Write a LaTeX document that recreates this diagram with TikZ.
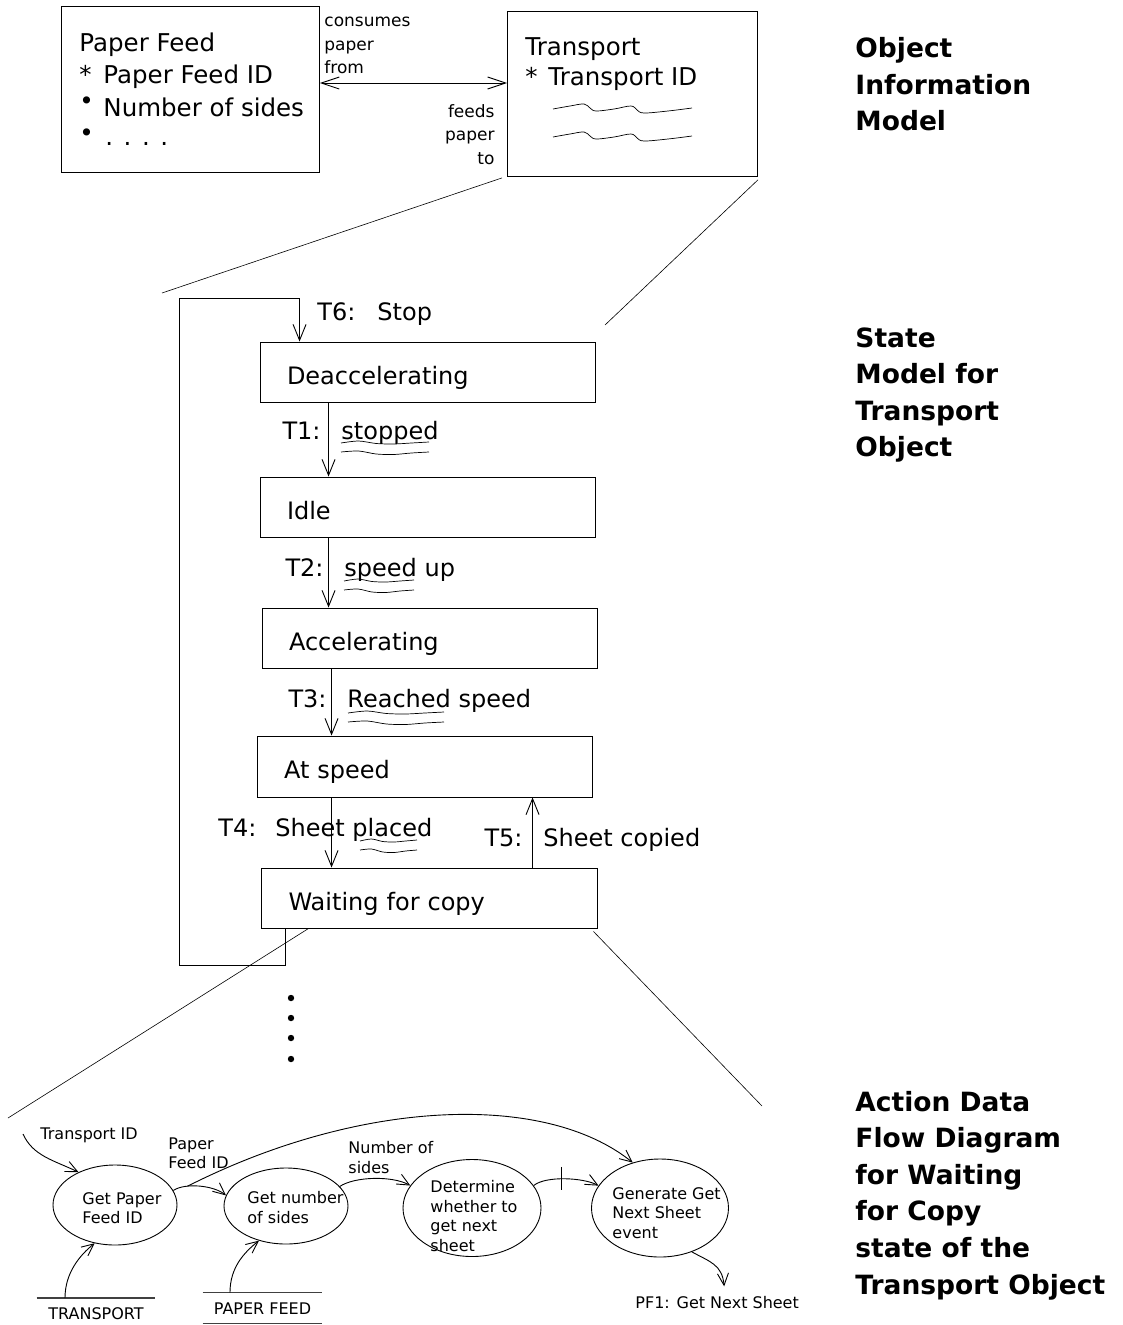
\documentclass[tikz,border=0pt]{standalone}
\usepackage{fontspec}
\setmainfont{DejaVu Sans}
\usetikzlibrary{arrows.meta,shapes.geometric}
% hand-drawn double underline: x, y, width
\newcommand{\scribble}[3]{%
\draw[squig] plot[smooth] coordinates {(#1,{#2+1}) ({#1+0.2*#3},{#2-1}) ({#1+0.4*#3},{#2+1.5}) ({#1+0.6*#3},{#2+2}) ({#1+0.8*#3},{#2+1}) ({#1+#3},{#2})};%
\draw[squig] plot[smooth] coordinates {(#1,{#2+10}) ({#1+0.2*#3},{#2+9}) ({#1+0.4*#3},{#2+12}) ({#1+0.6*#3},{#2+12.5}) ({#1+0.8*#3},{#2+11}) ({#1+#3},{#2+10})};}
\begin{document}
\begin{tikzpicture}[x=1pt,y=-1pt,line width=0.9pt]
\tikzset{statebox/.style={draw,minimum width=335pt,minimum height=60pt,inner xsep=27pt,text width=281pt,align=left,text height=24pt,text depth=0pt,font=\fontsize{24}{29}\selectfont},
 objbox/.style={draw,minimum width=258pt,minimum height=166pt,anchor=north west},
 proc/.style={draw,ellipse,inner sep=0pt},
 dfdtext/.style={font=\fontsize{16}{19.5}\selectfont,align=left,inner sep=0pt},
 trans/.style={font=\fontsize{24}{30}\selectfont,inner sep=0pt},
 rolename/.style={font=\fontsize{17}{23.5}\selectfont,inner sep=0pt},
 heading/.style={font=\bfseries\fontsize{26.5}{36.6}\selectfont,align=left,inner sep=0pt,anchor=north west},
 arr/.style={-{Straight Barb[length=16pt,width=13pt]}},
 darr/.style={-{Straight Barb[length=12pt,width=11pt]}},
 zoomline/.style={line width=0.6pt},
 squig/.style={line width=0.7pt},
 storeline/.style={line width=1.2pt,draw=black!75}}
\useasboundingbox (0,0) rectangle (1122,1325);
\node[objbox] (pfeed) at (61,6) {};
\node[objbox,minimum width=250pt,minimum height=165pt] (tport) at (507,11) {};
\node[anchor=north west,align=left,inner sep=0pt,font=\fontsize{24.5}{32.5}\selectfont] (pfeedtxt) at (79,32.4) {Paper Feed\\\makebox[24pt][l]{*}Paper Feed ID\\\makebox[24pt][l]{\raisebox{7pt}{\textbullet}}Number of sides\\\makebox[26pt][l]{\raisebox{7pt}{\textbullet}}\raisebox{3pt}{.\hspace{10.5pt}.\hspace{10.5pt}.\hspace{10.5pt}.}};
\node[anchor=north west,align=left,inner sep=0pt,font=\fontsize{24.5}{30}\selectfont] (tporttxt) at (525,37.4) {Transport\\\makebox[23pt][l]{*}Transport ID};
\draw[squig] plot[smooth,tension=0.6] coordinates {(553,109) (570,106) (584,104) (590,108) (596,111) (614,109) (631,106) (637,110) (644,113) (668,111) (692,108)};
\draw[squig] plot[smooth,tension=0.6] coordinates {(553,137) (570,134) (584,132) (590,136) (596,139) (614,137) (631,134) (637,138) (644,141) (668,139) (692,136)};
\draw[{Straight Barb[length=18pt,width=12pt]}-{Straight Barb[length=18pt,width=12pt]}] ([yshift=-77pt]pfeed.north east) -- ([yshift=-72pt]tport.north west);
\node[rolename,anchor=north west,align=left] (consumes) at (324,16.7) {consumes\\paper\\from};
\node[rolename,anchor=north east,align=right] (feeds) at (495,104) {feeds\\paper\\to};
\node[heading] (oimtitle) at (855,37) {Object\\Information\\Model};
\node[heading] (smtitle) at (855,327) {State\\Model for\\Transport\\Object};
\node[heading] (adftitle) at (855,1090.5) {Action Data\\Flow Diagram\\for Waiting\\for Copy\\state of the\\Transport Object};
\coordinate (smtl) at (162,293);
\coordinate (smtr) at (605,325);
\draw[zoomline] ([xshift=-5pt,yshift=-1pt]tport.south west) -- (smtl);
\draw[zoomline] ([yshift=-3pt]tport.south east) -- (smtr);
\node[statebox] (deacc) at (427.5,372) {Deaccelerating};
\node[statebox] (idle) at (427.5,507) {Idle};
\node[statebox] (accel) at (429.5,638) {Accelerating};
\node[statebox,minimum height=61pt] (atspeed) at (424.5,766.5) {At speed};
\node[statebox,minimum width=336pt] (waiting) at (429,898) {Waiting for copy};
\draw[arr] ([xshift=69pt]deacc.south west) -- ([xshift=69pt]idle.north west);
\node[trans,anchor=base east] (t1) at (321,439) {T1:};
\node[trans,anchor=base west] (t1ev) at (341,439) {stopped};
\scribble{341}{442}{88}
\draw[arr] ([xshift=69pt]idle.south west) -- ([xshift=67pt]accel.north west);
\node[trans,anchor=base east] (t2) at (324,576) {T2:};
\node[trans,anchor=base west] (t2ev) at (344,576) {speed up};
\scribble{344}{580}{70}
\draw[arr] ([xshift=70pt]accel.south west) -- ([xshift=75pt]atspeed.north west);
\node[trans,anchor=base east] (t3) at (327,707) {T3:};
\node[trans,anchor=base west] (t3ev) at (347,707) {Reached speed};
\scribble{348}{712}{96}
\draw[arr] ([xshift=75pt]atspeed.south west) -- ([xshift=71pt]waiting.north west);
\node[trans,anchor=base west] (t4) at (218,836) {T4:\hspace{19pt}Sheet placed};
\scribble{360}{840}{57}
\draw[arr] ([xshift=272pt]waiting.north west) -- ([xshift=276pt]atspeed.south west);
\node[trans,anchor=base east] (t5) at (523,846) {T5:};
\node[trans,anchor=base west] (t5ev) at (543,846) {Sheet copied};
\draw[arr] ([xshift=25pt]waiting.south west) -- ++(0,37) -| (179,298) -| ([xshift=40pt]deacc.north west);
\node[trans,anchor=base west] (t6) at (317,320) {T6:\hspace{22pt}Stop};
\coordinate (dfdl) at (8,1118);
\coordinate (dfdr) at (762,1106);
\draw[zoomline] ([xshift=48pt]waiting.south west) -- (dfdl);
\draw[zoomline] ([xshift=-4pt,yshift=-3pt]waiting.south east) -- (dfdr);
\foreach \y in {998,1018,1038,1059} \fill (291,\y) circle (3.2pt);
\node[proc,minimum width=124pt,minimum height=80pt] (getpf) at (115,1205) {};
\node[proc,minimum width=124pt,minimum height=76pt] (getns) at (286,1206) {};
\node[proc,minimum width=138pt,minimum height=97pt] (determ) at (472,1208) {};
\node[proc,minimum width=137pt,minimum height=98pt] (genev) at (660,1208) {};
\node[dfdtext,anchor=north west] (getpftxt) at (82,1192) {Get Paper\\Feed ID};
\node[dfdtext,anchor=north west] (getnstxt) at (247,1191) {Get number\\of sides};
\node[dfdtext,anchor=north west] (determtxt) at (430,1180) {Determine\\whether to\\get next\\sheet};
\node[dfdtext,anchor=north west] (genevtxt) at (612,1187) {Generate Get\\Next Sheet\\event};
\node[dfdtext,anchor=base west] (tidlbl) at (40,1139) {Transport ID};
\node[dfdtext,anchor=north west] (pfidlbl) at (168,1137) {Paper\\Feed ID};
\node[dfdtext,anchor=north west] (nslbl) at (348,1141) {Number of\\sides};
\node[dfdtext,anchor=base west] (pf1) at (635,1308) {PF1: Get Next Sheet};
\node[dfdtext,minimum width=118pt,text height=12pt,text depth=0pt,anchor=north,inner ysep=9pt] (tstore) at (96,1298) {TRANSPORT};
\node[dfdtext,minimum width=119pt,minimum height=30pt,text height=12pt,text depth=0pt] (pstore) at (262.5,1308) {PAPER FEED};
\draw[storeline] (tstore.north west) -- (tstore.north east);
\draw[storeline] (pstore.north west) -- (pstore.north east);
\draw[storeline] (pstore.south west) -- (pstore.south east);
\coordinate (tidin) at (23,1134);
\draw[darr] (tidin) .. controls +(10,22) and +(-25,-12) .. (getpf.138);
\draw[darr] (getpf.14) .. controls +(12,-8) and +(-12,-10) .. (getns.170) coordinate[pos=0.3] (pfbranch);
\draw[darr] (pfbranch) .. controls +(172,-87) and +(-88,-71) .. (genev.121);
\draw[darr] (getns.20) .. controls +(15,-10) and +(-18,-10) .. (determ.160);
\draw[darr] (determ.20) .. controls +(12,-10) and +(-15,-8) .. (genev.160) coordinate[pos=0.45] (tickpt);
\draw ([yshift=12pt]tickpt) -- ([yshift=-11pt]tickpt);
\draw[darr] (genev.-54) .. controls +(18,10) and +(-2,-22) .. ([xshift=7pt,yshift=9pt]pf1.north);
\draw[darr] ([xshift=-31pt]tstore.north) .. controls +(0,-25) and +(-15,12) .. (getpf.-118);
\draw[darr] ([xshift=-32.5pt]pstore.north) .. controls +(0,-25) and +(-15,12) .. (getns.-128);
\end{tikzpicture}
\end{document}
